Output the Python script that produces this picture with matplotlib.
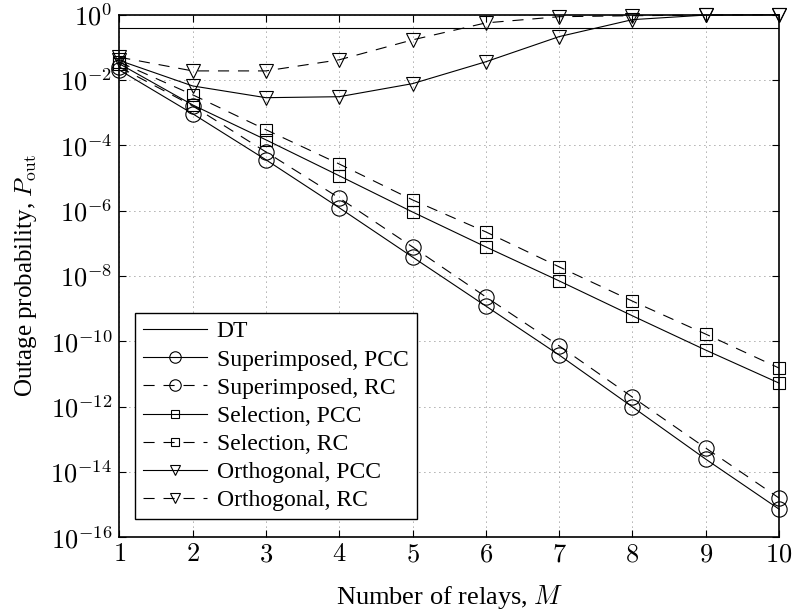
import matplotlib
matplotlib.use('Agg')
import matplotlib.pyplot as plt
import numpy as np

plt.rcParams['font.family'] = ['Liberation Serif', 'DejaVu Serif']
plt.rcParams['mathtext.fontset'] = 'cm'
plt.rcParams['font.size'] = 17

# number of relays
relays = [1, 2, 3, 4, 5, 6, 7, 8, 9, 10]

dt_log = -0.41
sup_pcc_log = [-1.69, -3.03, -4.44, -5.91, -7.42, -8.92, -10.42, -12.01, -13.61, -15.14]
sup_rc_log = [-1.60, -2.79, -4.20, -5.61, -7.11, -8.64, -10.14, -11.71, -13.27, -14.80]
sel_pcc_log = [-1.50, -2.76, -3.83, -4.93, -6.04, -7.11, -8.15, -9.22, -10.27, -11.28]
sel_rc_log = [-1.45, -2.45, -3.52, -4.57, -5.67, -6.65, -7.72, -8.77, -9.78, -10.82]
orth_pcc_log = [-1.40, -2.18, -2.54, -2.51, -2.11, -1.44, -0.67, -0.15, -0.01, 0.0]
orth_rc_log = [-1.30, -1.72, -1.72, -1.38, -0.77, -0.25, -0.06, -0.03, -0.01, 0.0]

series = [
    ('Superimposed, PCC', sup_pcc_log, 'o', '-'),
    ('Superimposed, RC', sup_rc_log, 'o', '--'),
    ('Selection, PCC', sel_pcc_log, 's', '-'),
    ('Selection, RC', sel_rc_log, 's', '--'),
    ('Orthogonal, PCC', orth_pcc_log, 'v', '-'),
    ('Orthogonal, RC', orth_rc_log, 'v', '--'),
]

ms = {'o': 11, 's': 8.5, 'v': 10}

fig = plt.figure(figsize=(7.95, 6.14), dpi=100)
ax = fig.add_axes([0.150, 0.125, 0.830, 0.851])

ax.plot([relays[0], relays[-1]], [10**dt_log] * 2, '-', color='black', lw=0.8, label='DT')
for name, vals, mk, ls in series:
    kw = dict(color='black', lw=0.8, marker=mk, ms=ms[mk], mfc='none', mew=0.8,
              label=name, clip_on=False)
    if ls == '--':
        ax.plot(relays, 10**np.array(vals), linestyle=(0, (10, 8)), **kw)
    else:
        ax.plot(relays, 10**np.array(vals), linestyle='-', **kw)

ax.set_yscale('log')
ax.set_xlim(1, 10)
ax.set_ylim(1e-16, 1)
ax.set_xticks(relays)
ax.set_yticks([10.0**k for k in range(-16, 1, 2)])
ax.set_yticklabels([r'$10^{%d}$' % k for k in range(-16, 1, 2)])
ax.set_xticklabels([r'$%d$' % m for m in relays])
ax.minorticks_off()
ax.tick_params(direction='in', top=True, right=True, length=5, width=0.8, labelsize=19, pad=5)
ax.grid(True, linestyle=(0, (1, 5)), color='0.35', lw=0.6)
for s in ax.spines.values():
    s.set_linewidth(1.2)

ax.set_xlabel(r'Number of relays, $M$', fontsize=19, labelpad=12)
ax.set_ylabel(r'Outage probability, $P_{\mathrm{out}}$', fontsize=18, labelpad=8)

leg = ax.legend(loc='lower left', numpoints=1, handlelength=2.7, fancybox=False,
                framealpha=1, edgecolor='black', borderpad=0.35, labelspacing=0.28,
                handletextpad=0.4, fontsize=17, markerscale=0.75, borderaxespad=0,
                bbox_to_anchor=(0.024, 0.034))
leg.get_frame().set_linewidth(1.0)

fig.savefig('out.png', dpi=100)
